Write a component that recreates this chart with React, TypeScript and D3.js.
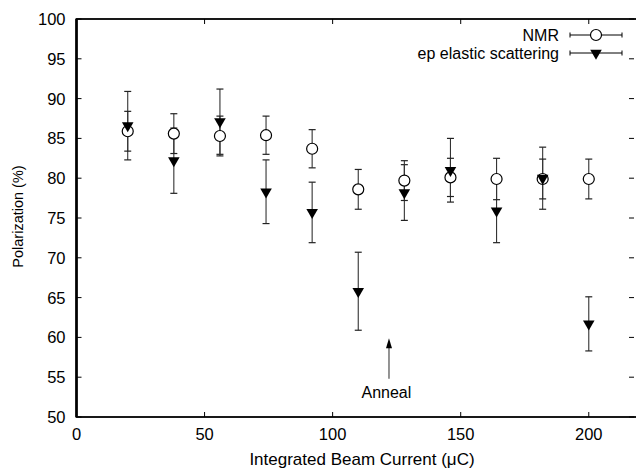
import * as d3 from "d3";
import React, { useEffect, useRef } from "react";

// beam current (uC) at each measurement
const current = [20, 38, 56, 74, 92, 110, 128, 146, 164, 182, 200];
// NMR polarization and its error
const nmr = [85.9, 85.6, 85.3, 85.4, 83.7, 78.6, 79.7, 80.1, 79.9, 79.9, 79.9];
const nmrErr = [2.5, 2.5, 2.5, 2.4, 2.4, 2.5, 2.5, 2.4, 2.6, 2.5, 2.5];
// ep elastic scattering polarization and its error
const ep = [86.6, 82.2, 87.1, 78.3, 75.7, 65.8, 78.2, 81.0, 75.9, 80.0, 61.7];
const epErr = [4.3, 4.1, 4.1, 4.0, 3.8, 4.9, 3.5, 4.0, 4.0, 3.9, 3.4];

const xTicks = [0, 50, 100, 150, 200];
const yTicks = [50, 55, 60, 65, 70, 75, 80, 85, 90, 95, 100];
const legendLabels = ["NMR", "ep elastic scattering"];
const anneal = { x: 122, from: 54.8, to: 59.9, label: "Anneal" };

export default function App() {
  const ref = useRef<SVGSVGElement>(null);

  useEffect(() => {
    const svg = d3.select(ref.current);
    svg.selectAll("*").remove();

    const x = d3.scaleLinear().domain([0, 220]).range([76.5, 640]);
    const y = d3.scaleLinear().domain([50, 100]).range([417, 19]);
    const font = "'Liberation Sans', Arial, sans-serif";

    // frame
    svg
      .append("rect")
      .attr("x", x(0))
      .attr("y", y(100))
      .attr("width", x(220) - x(0))
      .attr("height", y(50) - y(100))
      .attr("fill", "none")
      .attr("stroke", "#000")
      .attr("stroke-width", 1.8);
    svg.append("line").attr("x1", x(0)).attr("x2", x(0)).attr("y1", y(100)).attr("y2", y(50)).attr("stroke", "#000").attr("stroke-width", 2.6);

    // ticks (inward on all sides)
    const tl = 5;
    xTicks.forEach((t) => {
      svg.append("line").attr("x1", x(t)).attr("x2", x(t)).attr("y1", y(50)).attr("y2", y(50) - tl).attr("stroke", "#000");
      svg.append("line").attr("x1", x(t)).attr("x2", x(t)).attr("y1", y(100)).attr("y2", y(100) + tl).attr("stroke", "#000");
      svg
        .append("text")
        .attr("x", x(t))
        .attr("y", y(50) + 23)
        .attr("text-anchor", "middle")
        .attr("font-family", font)
        .attr("font-size", 16.5)
        .text(t);
    });
    yTicks.forEach((t) => {
      svg.append("line").attr("x1", x(0)).attr("x2", x(0) + tl).attr("y1", y(t)).attr("y2", y(t)).attr("stroke", "#000");
      svg.append("line").attr("x1", 634).attr("x2", 634 - tl).attr("y1", y(t)).attr("y2", y(t)).attr("stroke", "#000");
      svg
        .append("text")
        .attr("x", x(0) - 11)
        .attr("y", y(t))
        .attr("dy", "0.36em")
        .attr("text-anchor", "end")
        .attr("font-family", font)
        .attr("font-size", 16.5)
        .text(t);
    });

    // axis titles
    svg
      .append("text")
      .attr("x", 362)
      .attr("y", 465)
      .attr("text-anchor", "middle")
      .attr("font-family", font)
      .attr("font-size", 17)
      .text("Integrated Beam Current (\u03bcC)");
    svg
      .append("text")
      .attr("transform", `translate(23,216.5) rotate(-90)`)
      .attr("text-anchor", "middle")
      .attr("font-family", font)
      .attr("font-size", 14.5)
      .text("Polarization (%)");

    const cap = 3.5;
    const bar = (g: any, cx: number, lo: number, hi: number) => {
      g.append("line").attr("x1", cx).attr("x2", cx).attr("y1", lo).attr("y2", hi).attr("stroke", "#333").attr("stroke-width", 1.1);
      g.append("line").attr("x1", cx - cap).attr("x2", cx + cap).attr("y1", lo).attr("y2", lo).attr("stroke", "#222").attr("stroke-width", 1.2);
      g.append("line").attr("x1", cx - cap).attr("x2", cx + cap).attr("y1", hi).attr("y2", hi).attr("stroke", "#222").attr("stroke-width", 1.2);
    };
    const tri = d3.symbol().type(d3.symbolTriangle).size(58);

    const gBars = svg.append("g");
    current.forEach((c, i) => {
      bar(gBars, x(c), y(ep[i] - epErr[i]), y(ep[i] + epErr[i]));
      bar(gBars, x(c), y(nmr[i] - nmrErr[i]), y(nmr[i] + nmrErr[i]));
    });

    svg
      .append("g")
      .selectAll("circle")
      .data(current)
      .enter()
      .append("circle")
      .attr("cx", (c) => x(c))
      .attr("cy", (c, i) => y(nmr[i]))
      .attr("r", 5.5)
      .attr("fill", "#fff")
      .attr("stroke", "#000")
      .attr("stroke-width", 1.2);

    svg
      .append("g")
      .selectAll("path")
      .data(current)
      .enter()
      .append("path")
      .attr("d", tri)
      .attr("transform", (c, i) => `translate(${x(c)},${y(ep[i])}) rotate(180)`)
      .attr("fill", "#000");

    // legend
    const lg = svg.append("g");
    legendLabels.forEach((lab, i) => {
      const ly = 35 + i * 18;
      lg.append("text")
        .attr("x", 559)
        .attr("y", ly)
        .attr("dy", "0.36em")
        .attr("text-anchor", "end")
        .attr("font-family", font)
        .attr("font-size", 16)
        .text(lab);
      lg.append("line").attr("x1", 570).attr("x2", 622).attr("y1", ly).attr("y2", ly).attr("stroke", "#000");
      lg.append("line").attr("x1", 570).attr("x2", 570).attr("y1", ly - 2.5).attr("y2", ly + 2.5).attr("stroke", "#000");
      lg.append("line").attr("x1", 622).attr("x2", 622).attr("y1", ly - 2.5).attr("y2", ly + 2.5).attr("stroke", "#000");
      if (i === 0) {
        lg.append("circle").attr("cx", 596).attr("cy", ly).attr("r", 5.5).attr("fill", "#fff").attr("stroke", "#000").attr("stroke-width", 1.2);
      } else {
        lg.append("path").attr("d", tri).attr("transform", `translate(596,${ly}) rotate(180)`).attr("fill", "#000");
      }
    });

    // anneal arrow
    const ax = x(anneal.x);
    const tip = y(anneal.to);
    svg
      .append("line")
      .attr("x1", ax)
      .attr("x2", ax)
      .attr("y1", y(anneal.from))
      .attr("y2", tip + 8)
      .attr("stroke", "#666")
      .attr("stroke-width", 1.4);
    svg
      .append("path")
      .attr("d", `M${ax},${tip} L${ax - 3},${tip + 10} L${ax + 3},${tip + 10} Z`)
      .attr("fill", "#000");
    svg
      .append("text")
      .attr("x", ax - 27.5)
      .attr("y", 398)
      .attr("font-family", font)
      .attr("font-size", 16)
      .text(anneal.label);
  }, []);

  return (
    <svg
      ref={ref}
      width={636}
      height={469}
      style={{ position: "absolute", left: 0, top: 0, background: "#fff" }}
    />
  );
}
